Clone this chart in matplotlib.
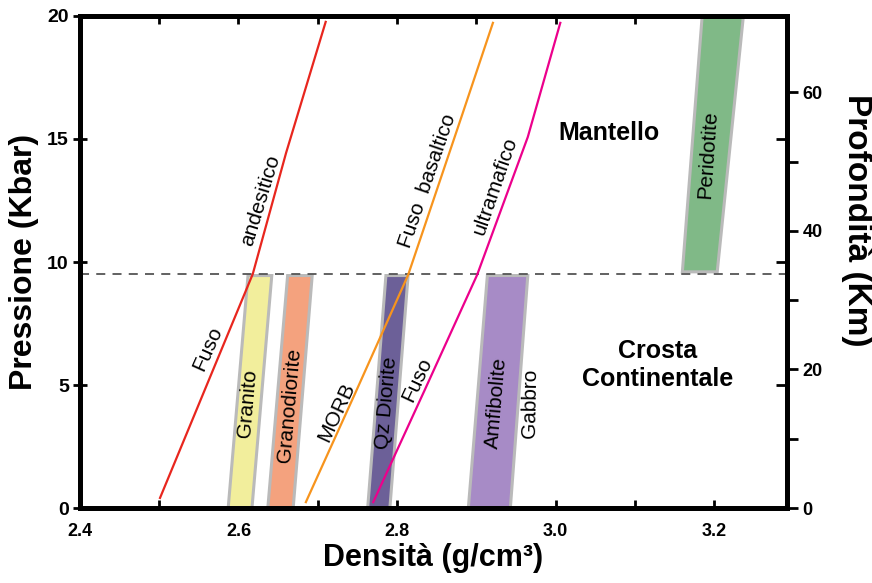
import numpy as np
import matplotlib.pyplot as plt
from matplotlib.patches import Polygon

plt.rcParams['font.family'] = ['Liberation Sans', 'DejaVu Sans']

# solidus curves: pressure (kbar) vs density (g/cm3)
andes_p = [0.41, 5.0, 9.51, 14.43, 19.76]
andes_d = [2.501, 2.560, 2.618, 2.660, 2.710]
basalt_p = [0.24, 4.72, 9.47, 16.06, 19.72]
basalt_d = [2.685, 2.748, 2.814, 2.883, 2.921]
ultra_p = [0.24, 4.80, 9.47, 15.08, 19.72]
ultra_d = [2.770, 2.835, 2.901, 2.965, 3.006]

# rock density fields: density at bottom and top edge (left, right)
rocks = ['Granito', 'Granodiorite', 'Qz Diorite', 'Amfibolite', 'Peridotite']
rock_bottom = [(2.587, 2.617), (2.637, 2.669), (2.763, 2.791), (2.890, 2.943), (3.160, 3.204)]
rock_top = [(2.612, 2.642), (2.662, 2.693), (2.786, 2.814), (2.914, 2.965), (3.185, 3.237)]
rock_p = [(0, 9.45), (0, 9.45), (0, 9.45), (0, 9.45), (9.6, 20)]
rock_colors = ['#f2ee9c', '#f4a27e', '#6c6098', '#a78bc6', '#80b987']

moho_p = 9.5
km_per_kbar = 3.55

fig = plt.figure(figsize=(8.72, 5.83), dpi=100)
ax = fig.add_axes([0.0917, 0.1286, 0.8108, 0.844])

for name, b, t, p, c in zip(rocks, rock_bottom, rock_top, rock_p, rock_colors):
    pts = [(b[0], p[0]), (b[1], p[0]), (t[1], p[1]), (t[0], p[1])]
    ax.add_patch(Polygon(pts, closed=True, facecolor=c, edgecolor='#bababa',
                         linewidth=2.2, zorder=2))

ax.axhline(moho_p, color='#555555', linestyle=(0, (5, 4)), linewidth=1.3, zorder=3)

ax.plot(andes_d, andes_p, color='#e8261e', linewidth=1.6, zorder=4)
ax.plot(basalt_d, basalt_p, color='#f7941d', linewidth=1.6, zorder=4)
ax.plot(ultra_d, ultra_p, color='#ec008c', linewidth=1.6, zorder=4)

# labels along the curves
lab = dict(fontsize=15, ha='center', va='center', zorder=5)
ax.text(2.628, 12.5, 'andesitico', rotation=73, **lab)
ax.text(2.5615, 6.5, 'Fuso', rotation=66, **lab)
ax.text(2.839, 13.3, 'Fuso  basaltico', rotation=71, **lab)
ax.text(2.924, 13.1, 'ultramafico', rotation=71, **lab)
ax.text(2.724, 3.9, 'MORB', rotation=65, **lab)
ax.text(2.825, 5.2, 'Fuso', rotation=65, **lab)

# rock labels
ax.text(2.612, 4.27, 'Granito', rotation=85, **lab)
ax.text(2.665, 4.19, 'Granodiorite', rotation=85, **lab)
ax.text(2.787, 4.27, 'Qz Diorite', rotation=85, **lab)
ax.text(2.926, 4.27, 'Amfibolite', rotation=85, **lab)
ax.text(2.968, 4.27, 'Gabbro', rotation=89, **lab)
ax.text(3.192, 14.35, 'Peridotite', rotation=86, **lab)

ax.text(3.067, 15.24, 'Mantello', fontsize=18, fontweight='bold', ha='center', va='center')
ax.text(3.129, 5.8, 'Crosta\nContinentale', fontsize=18, fontweight='bold',
        ha='center', va='center', linespacing=1.2)

ax.set_xlim(2.4, 3.292)
ax.set_ylim(0, 20)

for s in ax.spines.values():
    s.set_linewidth(3.5)
    s.set_zorder(6)

ax.set_xticks([2.4, 2.6, 2.8, 3.0, 3.2])
ax.set_xticklabels(['2.4', '2.6', '2.8', '3.0', '3.2'])
ax.set_xticks([2.5, 2.7, 2.9, 3.1], minor=True)
ax.tick_params(axis='x', which='both', direction='in', length=6, width=2,
               top=True, labelsize=13, pad=11)
ax.set_yticks([0, 5, 10, 15, 20])
ax.tick_params(axis='y', direction='inout', length=10, width=2, labelsize=14, pad=3)
for lbl in ax.get_xticklabels() + ax.get_yticklabels():
    lbl.set_fontweight('bold')

ax.set_xlabel('Densità (g/cm³)', fontsize=22, fontweight='bold', labelpad=2)
ax.set_ylabel('Pressione (Kbar)', fontsize=23, fontweight='bold', labelpad=6)

# depth scale on the right
ax2 = ax.twinx()
ax2.set_ylim(0, 20 * km_per_kbar)
depth_ticks = [0, 10, 20, 30, 40, 50, 60]
depth_labels = ['0', '', '20', '', '40', '', '60']
ax2.set_yticks(depth_ticks)
ax2.set_yticklabels(depth_labels)
ax2.set_yticks([p * km_per_kbar for p in [5, 10, 15]], minor=True)
ax2.tick_params(axis='y', which='major', direction='out', length=8, width=2,
                labelsize=13, pad=3)
ax2.tick_params(axis='y', which='minor', direction='in', length=8, width=2)
for lbl in ax2.get_yticklabels():
    lbl.set_fontweight('bold')
for s in ax2.spines.values():
    s.set_linewidth(3.5)
fig.text(856 / 872, 1 - 220 / 583, 'Profondità (Km)', fontsize=24, fontweight='bold',
         rotation=-90, ha='center', va='center')

fig.savefig('out.png', dpi=100)
